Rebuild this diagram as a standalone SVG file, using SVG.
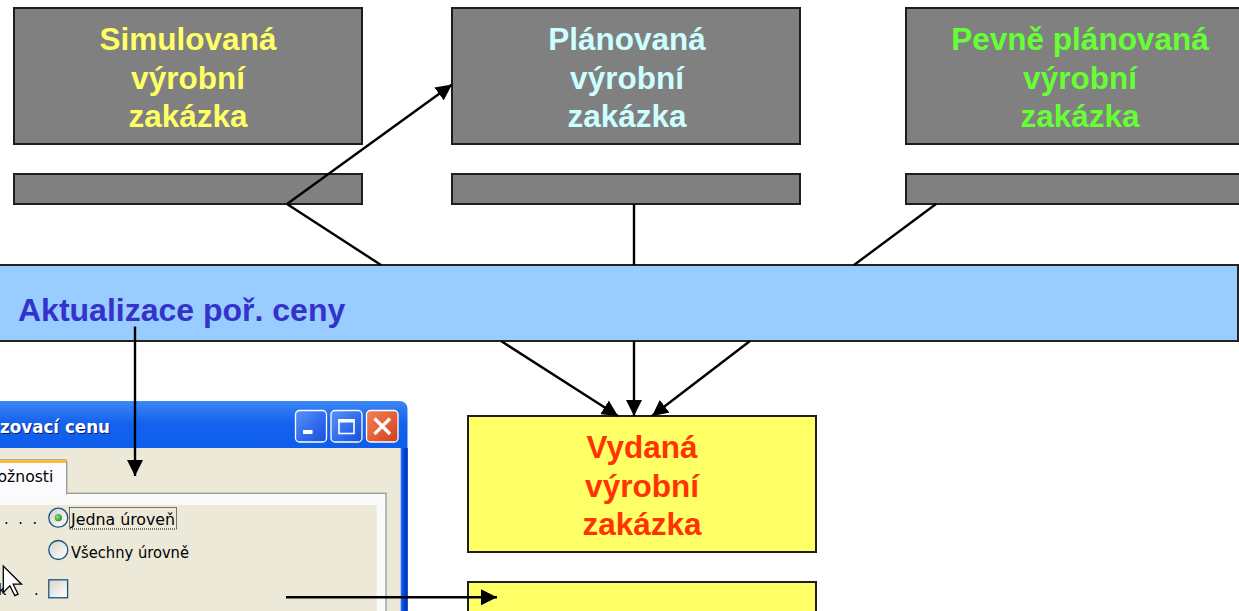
<svg xmlns="http://www.w3.org/2000/svg" width="1239" height="611" viewBox="0 0 1239 611">
<defs>
<style>
.box{fill:#808080;stroke:#1e1e1e;stroke-width:2}
.yel{fill:#FFFF66;stroke:#1e1e1e;stroke-width:2}
.t{font-family:"Liberation Sans",Arial,sans-serif;font-weight:bold;font-size:31.5px;text-anchor:middle}
.conn{stroke:#000;stroke-width:2.4;fill:none}
.ui{font-family:"DejaVu Sans Condensed","DejaVu Sans",sans-serif;font-size:16px;fill:#000}
.radio{fill:url(#rg);stroke:#1C5180;stroke-width:1.3}
</style>
<marker id="ah" markerUnits="userSpaceOnUse" markerWidth="16" markerHeight="16" viewBox="0 0 16 16" refX="16" refY="8" orient="auto"><path d="M0,0 L16,8 L0,16 z" fill="#000"/></marker>
<linearGradient id="title" x1="0" y1="0" x2="0" y2="1">
<stop offset="0" stop-color="#3D87F5"/><stop offset="0.1" stop-color="#1462EE"/><stop offset="0.5" stop-color="#0054E3"/><stop offset="0.88" stop-color="#0052E0"/><stop offset="1" stop-color="#003DC0"/>
</linearGradient>
<linearGradient id="rb" x1="0" y1="0" x2="1" y2="0">
<stop offset="0" stop-color="#2A6AF0"/><stop offset="0.5" stop-color="#0045D8"/><stop offset="1" stop-color="#0030B0"/>
</linearGradient>
<linearGradient id="btn" x1="0" y1="0" x2="1" y2="1">
<stop offset="0" stop-color="#5A93F8"/><stop offset="0.6" stop-color="#2D68EE"/><stop offset="1" stop-color="#1A50D8"/>
</linearGradient>
<linearGradient id="cls" x1="0" y1="0" x2="1" y2="1">
<stop offset="0" stop-color="#F0845C"/><stop offset="0.6" stop-color="#E15A32"/><stop offset="1" stop-color="#C8401C"/>
</linearGradient>
<linearGradient id="rg" x1="0" y1="0" x2="1" y2="1">
<stop offset="0" stop-color="#D6D3CA"/><stop offset="1" stop-color="#FFFFFF"/>
</linearGradient>
<radialGradient id="dot" cx="0.4" cy="0.4" r="0.6">
<stop offset="0" stop-color="#8DE58D"/><stop offset="1" stop-color="#1E9A1E"/>
</radialGradient>
</defs>

<g id="simulated-order">
<rect class="box" x="14" y="8" width="348" height="136"/>
<text class="t" fill="#FFFF66"><tspan x="188" y="50">Simulovaná</tspan><tspan x="188" y="88.5">výrobní</tspan><tspan x="188" y="127">zakázka</tspan></text>
</g>
<g id="simulated-bar"><rect class="box" x="14" y="174" width="348" height="30"/></g>

<g id="planned-order">
<rect class="box" x="452" y="8" width="348" height="136"/>
<text class="t" fill="#CCFFFF"><tspan x="627" y="50">Plánovaná</tspan><tspan x="627" y="88.5">výrobní</tspan><tspan x="627" y="127">zakázka</tspan></text>
</g>
<g id="planned-bar"><rect class="box" x="452" y="174" width="348" height="30"/></g>

<g id="firm-planned-order">
<rect class="box" x="906" y="8" width="348" height="136"/>
<text class="t" fill="#66FF33"><tspan x="1080" y="50">Pevně plánovaná</tspan><tspan x="1080" y="88.5">výrobní</tspan><tspan x="1080" y="127">zakázka</tspan></text>
</g>
<g id="firm-planned-bar"><rect class="box" x="906" y="174" width="348" height="30"/></g>

<g id="cost-update">
<rect x="-2" y="265" width="1240" height="76" fill="#99CCFF" stroke="#222" stroke-width="2"/>
<text x="18" y="321" font-family="Liberation Sans, Arial, sans-serif" font-weight="bold" font-size="32" fill="#3333CC">Aktualizace poř. ceny</text>
</g>

<g id="released-order">
<rect class="yel" x="468" y="416" width="348" height="136"/>
<text class="t" fill="#FF3300"><tspan x="642" y="458">Vydaná</tspan><tspan x="642" y="496.5">výrobní</tspan><tspan x="642" y="535">zakázka</tspan></text>
</g>
<g id="next-order"><rect class="yel" x="468" y="582" width="348" height="60"/></g>

<g id="dialog">
<path d="M-10,401 H399 Q407.5,401 407.5,409.5 V620 H-10 Z" fill="url(#title)"/>
<rect x="-10" y="448" width="411" height="172" fill="#ECE9D8"/>
<rect x="400.7" y="448" width="7" height="172" fill="url(#rb)"/>
<text x="1" y="434" font-family="DejaVu Sans Condensed, DejaVu Sans, sans-serif" font-weight="bold" font-size="18" fill="#0A1E70" textLength="110" lengthAdjust="spacingAndGlyphs">zovací cenu</text>
<text x="0" y="433" font-family="DejaVu Sans Condensed, DejaVu Sans, sans-serif" font-weight="bold" font-size="18" fill="#FFFFFF" textLength="110" lengthAdjust="spacingAndGlyphs">zovací cenu</text>
<rect x="295.5" y="410.5" width="31" height="31.5" rx="4" fill="url(#btn)" stroke="#FFFFFF" stroke-width="1.3"/>
<rect x="303" y="430" width="9.5" height="4" fill="#FFFFFF"/>
<rect x="331" y="410.5" width="31" height="31.5" rx="4" fill="url(#btn)" stroke="#FFFFFF" stroke-width="1.3"/>
<rect x="339" y="420" width="15" height="13.5" fill="none" stroke="#FFFFFF" stroke-width="1.6"/>
<rect x="338.2" y="419" width="16.6" height="3.5" fill="#FFFFFF"/>
<rect x="366.5" y="410.5" width="31.5" height="31.5" rx="4" fill="url(#cls)" stroke="#FFFFFF" stroke-width="1.3"/>
<path d="M374.5,418.5 L390,434 M390,418.5 L374.5,434" stroke="#FFFFFF" stroke-width="3.2"/>
<rect x="-5" y="493.3" width="391" height="130" fill="#FAFAF8" stroke="#919B9C" stroke-width="1.3"/>
<path d="M-5,494.5 V462 Q-5,460 -3,460 H64.7 Q66.7,460 66.7,462 V494.5" fill="#FCFCFE" stroke="#919B9C" stroke-width="1.3"/>
<rect x="-4.5" y="460" width="70.7" height="3" fill="#FFB93A"/>
<rect x="-4.3" y="492" width="70.3" height="3" fill="#FCFCFE"/>
<text class="ui" x="-2.5" y="482" textLength="55.8" lengthAdjust="spacingAndGlyphs">ožnosti</text>
<rect x="-5" y="505" width="381.7" height="120" fill="#ECE9D8"/>
<text class="ui" x="4 11 18.3 25 32.6" y="524">. . .</text>
<circle class="radio" cx="58.3" cy="517.7" r="9.5"/>
<circle cx="58.3" cy="517.7" r="3.6" fill="url(#dot)"/>
<rect x="69.5" y="507.5" width="107" height="21.5" fill="none" stroke="#000" stroke-width="1" stroke-dasharray="1,1"/>
<text class="ui" x="71" y="524.5" font-size="17" textLength="104" lengthAdjust="spacingAndGlyphs">Jedna úroveň</text>
<circle class="radio" cx="58.3" cy="550" r="9.5"/>
<text class="ui" x="71" y="557.5" font-size="17" textLength="118" lengthAdjust="spacingAndGlyphs">Všechny úrovně</text>
<text class="ui" x="-2" y="595" font-size="17">k</text>
<text class="ui" x="34" y="595">.</text>
<rect x="48.8" y="579.8" width="18.8" height="18" fill="url(#rg)" stroke="#1C5180" stroke-width="1.3"/>
<path d="M3.3,566 V592.4 L9.9,585.8 L14.8,595.7 L18.1,594.1 L13.2,584.2 L21.5,584.2 Z" fill="#FFFFFF" stroke="#000" stroke-width="1.3" stroke-linejoin="miter"/>
</g>

<g id="connectors">
<line class="conn" x1="287" y1="204" x2="452" y2="84.5" marker-end="url(#ah)"/>
<line class="conn" x1="287" y1="204" x2="381" y2="265"/>
<line class="conn" x1="501" y1="341" x2="618" y2="416" marker-end="url(#ah)"/>
<line class="conn" x1="634" y1="204" x2="634" y2="265"/>
<line class="conn" x1="634" y1="341" x2="634" y2="416" marker-end="url(#ah)"/>
<line class="conn" x1="936" y1="204" x2="854" y2="265"/>
<line class="conn" x1="750" y1="341" x2="652" y2="416" marker-end="url(#ah)"/>
<line class="conn" x1="135" y1="326.5" x2="135" y2="476" marker-end="url(#ah)"/>
<line class="conn" x1="286" y1="597.3" x2="497" y2="597.3" marker-end="url(#ah)"/>
</g>
</svg>
